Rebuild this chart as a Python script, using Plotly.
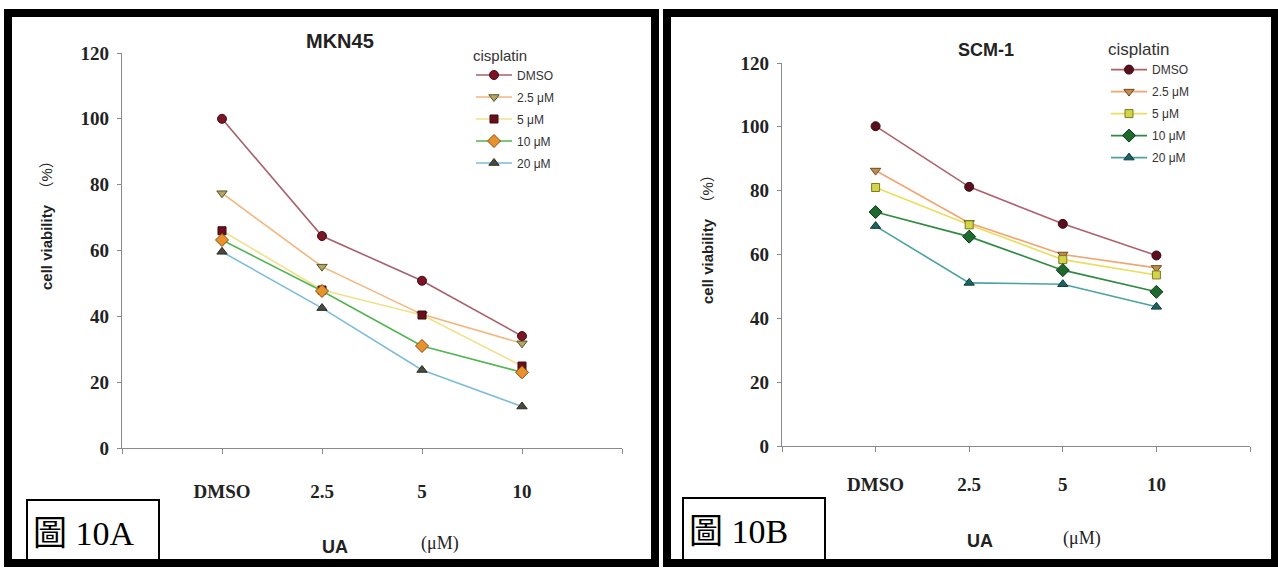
import plotly.graph_objects as go

W, H = 1278, 568

categories = ["DMSO", "2.5", "5", "10"]
series_names = ["DMSO", "2.5 μM", "5 μM", "10 μM", "20 μM"]

# Panel A: MKN45
mkn45_values = {
    "DMSO":   [100.0, 64.4, 50.8, 34.0],
    "2.5 μM": [77.4, 55.1, 40.6, 31.8],
    "5 μM":   [66.0, 48.0, 40.4, 24.9],
    "10 μM":  [63.2, 47.7, 31.0, 23.0],
    "20 μM":  [59.6, 42.5, 23.7, 12.6],
}
# Panel B: SCM-1
scm1_values = {
    "DMSO":   [100.2, 81.2, 69.6, 59.7],
    "2.5 μM": [86.3, 69.9, 60.0, 55.8],
    "5 μM":   [81.0, 69.3, 58.4, 53.6],
    "10 μM":  [73.3, 65.6, 55.1, 48.3],
    "20 μM":  [68.9, 51.1, 50.7, 43.6],
}
y_ticks = [0, 20, 40, 60, 80, 100, 120]

styles_a = {
    "DMSO":   dict(line="#a8606a", symbol="circle", mcolor="#7a1526", mline="#4a0a14", size=9),
    "2.5 μM": dict(line="#f5b67c", symbol="triangle-down", mcolor="#b0a868", mline="#5a5020", size=9),
    "5 μM":   dict(line="#f2e08a", symbol="square", mcolor="#6b0f1e", mline="#3a0a10", size=8),
    "10 μM":  dict(line="#52b552", symbol="diamond", mcolor="#e8922e", mline="#8a4a10", size=10),
    "20 μM":  dict(line="#7cbcdc", symbol="triangle-up", mcolor="#4a4a40", mline="#2a2a20", size=9),
}
styles_b = {
    "DMSO":   dict(line="#b0606a", symbol="circle", mcolor="#5a0f1e", mline="#3a0a10", size=9),
    "2.5 μM": dict(line="#f2a472", symbol="triangle-down", mcolor="#c48a4a", mline="#6a4a20", size=9),
    "5 μM":   dict(line="#eade5a", symbol="square", mcolor="#d4d44a", mline="#7a7a20", size=8),
    "10 μM":  dict(line="#2e8a40", symbol="diamond", mcolor="#1e6a2e", mline="#0e3a18", size=10),
    "20 μM":  dict(line="#4aa2a2", symbol="triangle-up", mcolor="#1e6262", mline="#0e3a3a", size=9),
}

fig = go.Figure()
xidx = list(range(len(categories)))

for name in series_names:
    s = styles_a[name]
    fig.add_trace(go.Scatter(
        x=xidx, y=mkn45_values[name], name=name, mode="lines+markers",
        line=dict(color=s["line"], width=1.6),
        marker=dict(symbol=s["symbol"], color=s["mcolor"], size=s["size"],
                    line=dict(color=s["mline"], width=1)),
        xaxis="x", yaxis="y", legend="legend", legendgroup="a" + name,
    ))
for name in series_names:
    s = styles_b[name]
    fig.add_trace(go.Scatter(
        x=xidx, y=scm1_values[name], name=name, mode="lines+markers",
        line=dict(color=s["line"], width=1.6),
        marker=dict(symbol=s["symbol"], color=s["mcolor"], size=s["size"],
                    line=dict(color=s["mline"], width=1)),
        xaxis="x2", yaxis="y2", legend="legend2", legendgroup="b" + name,
    ))

def px_x(p): return p / W
def px_y(p): return 1 - p / H

tick_font = dict(family="Liberation Serif", size=19, color="#222", weight="bold")
xaxis_common = dict(
    tickmode="array", tickvals=[-1, 0, 1, 2, 3, 4], ticktext=[""] + categories + [""],
    range=[-1.0, 4.0], showgrid=False, zeroline=False, showline=True,
    linecolor="#8a8a8a", linewidth=1.2, ticks="outside", ticklen=5,
    tickcolor="#8a8a8a", tickfont=tick_font, automargin=False,
)
yaxis_common = dict(
    tickmode="array", tickvals=y_ticks, range=[0, 120], showgrid=False,
    zeroline=False, showline=True, linecolor="#8a8a8a", linewidth=1.2,
    ticks="outside", ticklen=4, tickcolor="#8a8a8a", tickfont=tick_font,
    ticklabelstandoff=4, automargin=False,
)

fig.update_layout(
    width=W, height=H, margin=dict(l=0, r=0, t=0, b=0, pad=0, autoexpand=False),
    paper_bgcolor="white", plot_bgcolor="white",
    xaxis=dict(domain=[px_x(122), px_x(622)], anchor="y", ticklabelstandoff=21, **xaxis_common),
    yaxis=dict(domain=[px_y(448), px_y(53)], anchor="x", **yaxis_common),
    xaxis2=dict(domain=[px_x(782), px_x(1250)], anchor="y2", ticklabelstandoff=16, **xaxis_common),
    yaxis2=dict(domain=[px_y(446), px_y(63)], anchor="x2", **yaxis_common),
    legend=dict(
        x=px_x(471), y=px_y(41), xanchor="left", yanchor="top",
        title=dict(text="cisplatin", font=dict(family="Liberation Sans", size=15, color="#333")),
        font=dict(family="Liberation Sans", size=12, color="#333"),
        bgcolor="rgba(0,0,0,0)", tracegroupgap=3, itemwidth=36,
    ),
    legend2=dict(
        x=px_x(1106), y=px_y(33), xanchor="left", yanchor="top",
        title=dict(text="cisplatin", font=dict(family="Liberation Sans", size=17, color="#333")),
        font=dict(family="Liberation Sans", size=12, color="#333"),
        bgcolor="rgba(0,0,0,0)", tracegroupgap=3, itemwidth=36,
    ),
)

annotations = [
    dict(text="<b>MKN45</b>", x=px_x(340), y=px_y(41), font=dict(family="Liberation Sans", size=20, color="#222")),
    dict(text="<b>SCM-1</b>", x=px_x(986), y=px_y(50), font=dict(family="Liberation Sans", size=18, color="#222")),
    dict(text="<b>cell viability</b>  （%）", x=px_x(46), y=px_y(222), textangle=-90,
         font=dict(family="Liberation Sans, Noto Sans CJK TC", size=15, color="#222")),
    dict(text="<b>cell viability</b>  （%）", x=px_x(707), y=px_y(236), textangle=-90,
         font=dict(family="Liberation Sans, Noto Sans CJK TC", size=15, color="#222")),
    dict(text="<b>UA</b>", x=px_x(335), y=px_y(547), font=dict(family="Liberation Sans", size=18, color="#222")),
    dict(text="(μM)", x=px_x(440), y=px_y(543), font=dict(family="Liberation Serif", size=18, color="#222")),
    dict(text="<b>UA</b>", x=px_x(980), y=px_y(541), font=dict(family="Liberation Sans", size=18, color="#222")),
    dict(text="(μM)", x=px_x(1082), y=px_y(538), font=dict(family="Liberation Serif", size=18, color="#222")),
    dict(text="圖 10A", x=px_x(31), y=px_y(533), xanchor="left",
         font=dict(family="Liberation Serif, Noto Sans CJK TC", size=34, color="#000")),
    dict(text="圖 10B", x=px_x(687), y=px_y(531), xanchor="left",
         font=dict(family="Liberation Serif, Noto Sans CJK TC", size=34, color="#000")),
]
for a in annotations:
    a.setdefault("xanchor", "center")
    fig.add_annotation(xref="paper", yref="paper", showarrow=False, yanchor="middle", **a)

shapes = [
    # panel borders
    dict(type="rect", x0=px_x(8), x1=px_x(655), y0=px_y(563), y1=px_y(13),
         line=dict(color="black", width=8)),
    dict(type="rect", x0=px_x(667), x1=px_x(1275), y0=px_y(563), y1=px_y(13),
         line=dict(color="black", width=8)),
    # label boxes
    dict(type="rect", x0=px_x(27), x1=px_x(159), y0=px_y(563), y1=px_y(500),
         line=dict(color="black", width=2)),
    dict(type="rect", x0=px_x(683), x1=px_x(825), y0=px_y(563), y1=px_y(498),
         line=dict(color="black", width=2)),
]
for s in shapes:
    fig.add_shape(xref="paper", yref="paper", **s)

fig.write_html("out.html")
